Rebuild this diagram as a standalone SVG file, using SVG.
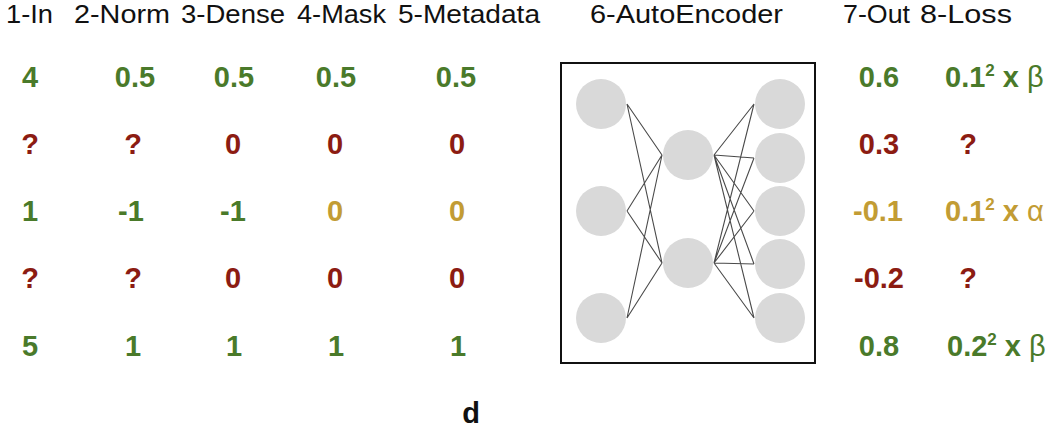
<svg xmlns="http://www.w3.org/2000/svg" width="1052" height="427" viewBox="0 0 1052 427">
<style>
.h{font-family:"Liberation Sans",Arial,sans-serif;font-size:25px;fill:#111}
.v{font-family:"Liberation Sans",Arial,sans-serif;font-size:29px;font-weight:bold;text-anchor:middle}
.l{font-family:"Liberation Sans",Arial,sans-serif;font-size:29px;font-weight:bold}
.g{fill:#4a7a2a}
.r{fill:#8c1c12}
.y{fill:#c29c34}
.gr{font-weight:normal}
.sup{font-size:17px}
.node{fill:#d9d9d9}
.edge{stroke:#4a4a4a;stroke-width:1.1;fill:none}
</style>
<rect width="1052" height="427" fill="#fff"/>
<g id="headers">
<text class="h" x="6" y="23" textLength="47" lengthAdjust="spacingAndGlyphs">1-In</text>
<text class="h" x="74" y="23" textLength="96" lengthAdjust="spacingAndGlyphs">2-Norm</text>
<text class="h" x="181" y="23" textLength="104" lengthAdjust="spacingAndGlyphs">3-Dense</text>
<text class="h" x="297" y="23" textLength="89" lengthAdjust="spacingAndGlyphs">4-Mask</text>
<text class="h" x="398" y="23" textLength="142" lengthAdjust="spacingAndGlyphs">5-Metadata</text>
<text class="h" x="590" y="23" textLength="193" lengthAdjust="spacingAndGlyphs">6-AutoEncoder</text>
<text class="h" x="843" y="23" textLength="67" lengthAdjust="spacingAndGlyphs">7-Out</text>
<text class="h" x="920" y="23" textLength="92" lengthAdjust="spacingAndGlyphs">8-Loss</text>
</g>
<g id="col1-in">
<text class="v g" x="30" y="87">4</text>
<text class="v r" x="30" y="154">?</text>
<text class="v g" x="30" y="221">1</text>
<text class="v r" x="30" y="288">?</text>
<text class="v g" x="30" y="356">5</text>
</g>
<g id="col2-norm">
<text class="v g" x="135" y="87">0.5</text>
<text class="v r" x="133" y="154">?</text>
<text class="v g" x="131" y="221">-1</text>
<text class="v r" x="133" y="288">?</text>
<text class="v g" x="133" y="356">1</text>
</g>
<g id="col3-dense">
<text class="v g" x="234" y="87">0.5</text>
<text class="v r" x="233" y="154">0</text>
<text class="v g" x="233" y="221">-1</text>
<text class="v r" x="233" y="288">0</text>
<text class="v g" x="234" y="356">1</text>
</g>
<g id="col4-mask">
<text class="v g" x="336" y="87">0.5</text>
<text class="v r" x="335" y="154">0</text>
<text class="v y" x="335" y="221">0</text>
<text class="v r" x="335" y="288">0</text>
<text class="v g" x="336" y="356">1</text>
</g>
<g id="col5-metadata">
<text class="v g" x="456" y="87">0.5</text>
<text class="v r" x="457" y="154">0</text>
<text class="v y" x="457" y="221">0</text>
<text class="v r" x="457" y="288">0</text>
<text class="v g" x="458" y="356">1</text>
</g>
<g id="autoencoder">
<rect x="561" y="63" width="254" height="300" fill="#fff" stroke="#111" stroke-width="2"/>
<g id="edges">
<path class="edge" d="M627 104L662 155M627 104L662 263M627 211L662 155M627 211L662 263M627 318L662 155M627 318L662 263"/>
<path class="edge" d="M714 155L754 104M714 155L754 158M714 155L754 211M714 155L754 264M714 155L754 318M714 263L754 104M714 263L754 158M714 263L754 211M714 263L754 264M714 263L754 318"/>
</g>
<g id="input-layer">
<circle class="node" cx="601" cy="104" r="25"/>
<circle class="node" cx="601" cy="211" r="25"/>
<circle class="node" cx="601" cy="318" r="25"/>
</g>
<g id="hidden-layer">
<circle class="node" cx="688" cy="155" r="25"/>
<circle class="node" cx="688" cy="263" r="25"/>
</g>
<g id="output-layer">
<circle class="node" cx="780" cy="104" r="25"/>
<circle class="node" cx="780" cy="158" r="25"/>
<circle class="node" cx="780" cy="211" r="25"/>
<circle class="node" cx="780" cy="264" r="25"/>
<circle class="node" cx="780" cy="318" r="25"/>
</g>
</g>
<g id="col7-out">
<text class="v g" x="879" y="87">0.6</text>
<text class="v r" x="879" y="154">0.3</text>
<text class="v y" x="878" y="221">-0.1</text>
<text class="v r" x="879" y="288">-0.2</text>
<text class="v g" x="879" y="356">0.8</text>
</g>
<g id="col8-loss">
<text class="l g" x="945" y="87">0.1<tspan class="sup" dy="-11">2</tspan><tspan dy="11"> x </tspan><tspan class="gr">β</tspan></text>
<text class="v r" x="968" y="154">?</text>
<text class="l y" x="945" y="221">0.1<tspan class="sup" dy="-11">2</tspan><tspan dy="11"> x </tspan><tspan class="gr">α</tspan></text>
<text class="v r" x="968" y="288">?</text>
<text class="l g" x="947" y="356">0.2<tspan class="sup" dy="-11">2</tspan><tspan dy="11"> x </tspan><tspan class="gr">β</tspan></text>
</g>
<text class="v" x="471" y="423" fill="#111">d</text>
</svg>
